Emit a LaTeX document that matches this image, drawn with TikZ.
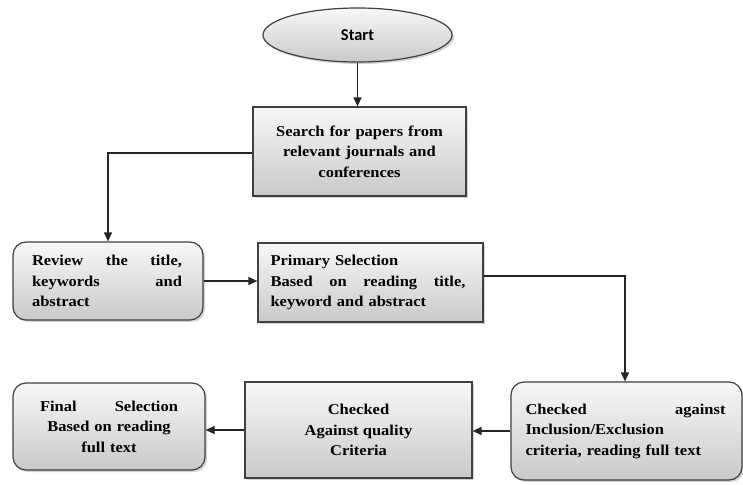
\documentclass[tikz,border=0pt]{standalone}
\usepackage{fontspec}
\setmainfont[FakeStretch=1.1]{Liberation Serif}
\newfontfamily\startfont{Carlito}
\usetikzlibrary{shapes.geometric,shadows,arrows.meta}
\begin{document}
\begin{tikzpicture}[x=1pt,y=-1pt,
 box/.style={draw=black!75, line width=1.2pt, shading=axis, top color=gray!6, bottom color=gray!42,
   drop shadow={opacity=0.35,shadow xshift=2pt,shadow yshift=-2pt},
   inner sep=0pt, font=\fontsize{15}{20.5}\selectfont\bfseries},
 rbox/.style={box, rounded corners=13pt},
 conn/.style={line width=1.3pt, black!85, -{Triangle[length=9pt,width=8pt]}}
]
\useasboundingbox (0,0) rectangle (743,484);
\fill[white] (0,0) rectangle (743,484);

\node[box, ellipse, minimum width=189pt, minimum height=54pt, font=\startfont\bfseries\fontsize{16.5}{18}\selectfont] (start) at (357.5,35) {Start};
\node[box, minimum width=213pt, minimum height=89pt, text width=190pt, align=center] (search) at (359.5,151.5)
 {Search for papers from\\ relevant journals and\\ conferences};
\node[rbox, minimum width=190pt, minimum height=78pt, text width=152pt, align=left] (review) at (108,281)
 {\makebox[150pt]{Review\hfill the\hfill title,}\\ \makebox[150pt]{keywords\hfill and}\\ abstract};
\node[box, minimum width=225pt, minimum height=79pt, text width=200pt, align=left] (primary) at (370.5,282.5)
 {Primary Selection\\ \makebox[195pt]{Based\hfill on\hfill reading\hfill title,}\\ keyword and abstract};
\node[rbox, minimum width=231pt, minimum height=98pt, text width=202pt, align=left] (incl) at (626.5,431)
 {\makebox[200pt]{Checked\hfill against}\\ Inclusion/Exclusion\\ criteria, reading full text};
\node[box, minimum width=227pt, minimum height=96pt, align=center] (quality) at (358.5,430)
 {Checked\\ Against quality\\ Criteria};
\node[rbox, minimum width=192pt, minimum height=87pt, text width=140pt, align=center] (final) at (109,426.5)
 {\makebox[138pt]{Final\hfill Selection}\\ Based on reading\\ full text};

\draw[conn] (start.south) -- (start.south |- search.north);
\coordinate (c1) at (108,153);
\draw[conn] (search.west |- c1) -- (c1) -- (review.north);
\draw[conn] (review.east) -- (review.east -| primary.west);
\coordinate (c2) at (625,276);
\draw[conn] (primary.east |- c2) -- (c2) -- (c2 |- incl.north);
\draw[conn] (incl.west) -- (incl.west -| quality.east);
\draw[conn] (quality.west) -- (quality.west -| final.east);
\end{tikzpicture}
\end{document}
